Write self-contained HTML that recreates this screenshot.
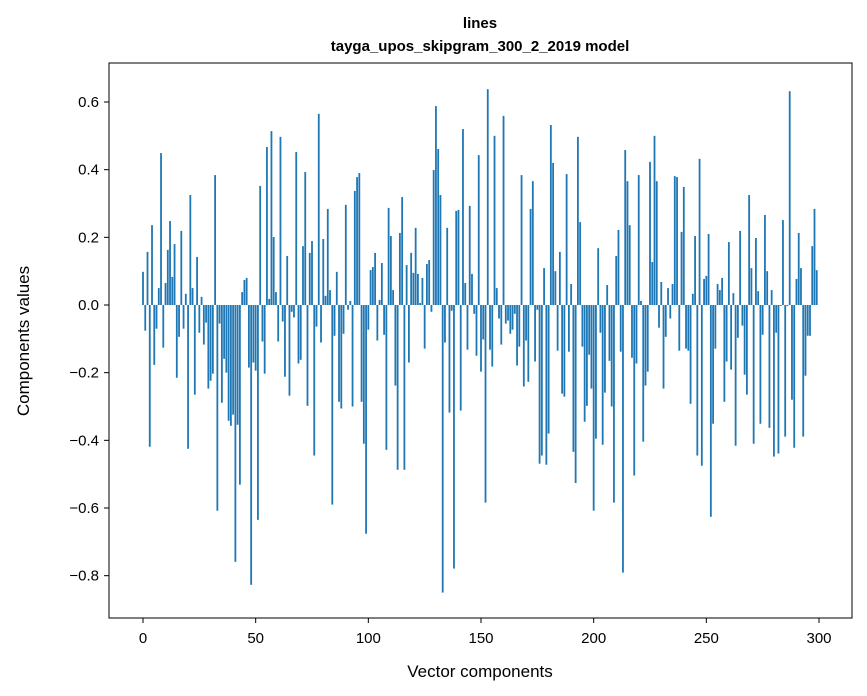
<!DOCTYPE html>
<html><head><meta charset="utf-8"><style>
body{margin:0;background:#fff;}
svg{display:block;font-family:"Liberation Sans","DejaVu Sans",sans-serif;}
</style></head><body>
<svg id="chart" width="867" height="696">
<text x="480" y="28" text-anchor="middle" font-size="15" font-weight="bold">lines</text>
<text x="480" y="51" text-anchor="middle" font-size="15" font-weight="bold">tayga_upos_skipgram_300_2_2019 model</text>
<g id="bars"></g>
<rect x="109" y="63" width="743" height="555" fill="none" stroke="#000" stroke-width="1"/>
<g id="xaxis"></g>
<g id="yaxis"></g>
<text x="480" y="677" text-anchor="middle" font-size="17">Vector components</text>
<text transform="translate(29,341) rotate(-90)" text-anchor="middle" font-size="17">Components values</text>
</svg>
<script>
const values = [
0.098,-0.076,0.157,-0.419,0.236,-0.177,-0.07,0.05,0.449,-0.126,
0.065,0.163,0.248,0.083,0.18,-0.215,-0.094,0.219,-0.07,0.033,
-0.425,0.325,0.05,-0.265,0.142,-0.082,0.024,-0.117,-0.052,-0.247,
-0.224,-0.203,0.384,-0.608,-0.055,-0.289,-0.159,-0.2,-0.342,-0.357,
-0.324,-0.759,-0.354,-0.531,0.038,0.074,0.08,-0.185,-0.827,-0.17,
-0.194,-0.635,0.352,-0.108,-0.203,0.467,0.018,0.514,0.201,0.038,
-0.108,0.497,-0.049,-0.212,0.145,-0.268,-0.02,-0.037,0.452,-0.173,
-0.162,0.174,0.393,-0.298,0.154,0.189,-0.445,-0.064,0.565,-0.111,
0.195,0.027,0.284,0.044,-0.59,-0.091,0.098,-0.286,-0.306,-0.085,
0.296,-0.014,0.012,-0.3,0.337,0.378,0.39,-0.286,-0.41,-0.676,
-0.073,0.103,0.112,0.154,-0.105,0.015,0.124,-0.088,-0.428,0.287,
0.204,0.044,-0.238,-0.487,0.213,0.319,-0.487,0.118,-0.17,0.154,
0.095,0.228,0.092,0.006,0.08,-0.129,0.121,0.133,-0.02,0.399,
0.588,0.461,0.325,-0.85,-0.111,0.228,-0.318,-0.017,-0.779,0.278,
0.281,-0.312,0.52,0.065,-0.132,0.293,0.092,-0.026,-0.15,0.443,
-0.197,-0.102,-0.584,0.638,-0.132,-0.182,0.5,0.05,-0.04,-0.117,
0.559,-0.055,-0.046,-0.085,-0.073,-0.026,-0.179,-0.123,0.384,-0.241,
-0.105,-0.227,0.284,0.366,-0.167,-0.014,-0.469,-0.445,0.109,-0.472,
-0.38,0.532,0.42,0.1,-0.135,0.157,-0.262,-0.271,0.387,-0.138,
0.062,-0.434,-0.526,0.497,0.245,-0.123,-0.345,-0.298,-0.147,-0.247,
-0.608,-0.395,0.168,-0.082,-0.413,-0.259,0.059,-0.165,-0.3,-0.584,
0.145,0.222,-0.138,-0.791,0.458,0.366,0.236,-0.156,-0.504,-0.173,
0.384,0.012,-0.404,-0.238,-0.197,0.423,0.127,0.5,0.366,-0.067,
0.068,-0.247,-0.094,0.05,-0.04,0.062,0.381,0.378,-0.135,0.216,
0.349,-0.129,-0.135,-0.292,0.033,0.204,-0.445,0.432,-0.475,0.077,
0.086,0.21,-0.626,-0.351,-0.129,0.062,0.044,0.08,-0.286,-0.167,
0.186,-0.191,0.035,-0.416,-0.097,0.219,-0.061,-0.206,-0.265,0.325,
0.109,-0.41,0.198,0.041,-0.351,-0.088,0.266,0.1,-0.363,0.044,
-0.448,-0.082,-0.439,-0.003,0.251,-0.389,-0.003,0.632,-0.28,-0.422,
0.077,0.213,0.109,-0.389,-0.209,-0.091,-0.091,0.174,0.284,0.103
];
const xTicks = [0,50,100,150,200,250,300];
const yTicks = [-0.8,-0.6,-0.4,-0.2,0.0,0.2,0.4,0.6];
const yTickLabels = ["\u22120.8","\u22120.6","\u22120.4","\u22120.2","0.0","0.2","0.4","0.6"];

const NS="http://www.w3.org/2000/svg";
const xs = v => 143 + v*(819-143)/300;
const ys = v => 305 - v*(305-102)/0.6;
const barW = 0.8*(819-143)/300;
const gb=document.getElementById('bars');
values.forEach((v,i)=>{
  const r=document.createElementNS(NS,'rect');
  
  
  const y0=ys(0), y1=ys(v);
  r.setAttribute('x',xs(i)-barW/2);
  r.setAttribute('y',Math.min(y0,y1));
  r.setAttribute('width',barW);
  r.setAttribute('height',Math.abs(y1-y0));
  r.setAttribute('fill','#1f77b4');
  gb.appendChild(r);
});
const gx=document.getElementById('xaxis');
xTicks.forEach(t=>{
  const l=document.createElementNS(NS,'line');
  
  
  l.setAttribute('x1',xs(t));l.setAttribute('x2',xs(t));
  l.setAttribute('y1',618);l.setAttribute('y2',623);
  l.setAttribute('stroke','#000');
  gx.appendChild(l);
  const tx=document.createElementNS(NS,'text');
  
  
  tx.setAttribute('x',xs(t));tx.setAttribute('y',643);
  tx.setAttribute('text-anchor','middle');tx.setAttribute('font-size','15');
  tx.textContent=String(t);
  gx.appendChild(tx);
});
const gy=document.getElementById('yaxis');
yTicks.forEach((t,k)=>{
  const l=document.createElementNS(NS,'line');
  
  
  l.setAttribute('x1',104);l.setAttribute('x2',109);
  l.setAttribute('y1',ys(t));l.setAttribute('y2',ys(t));
  l.setAttribute('stroke','#000');
  gy.appendChild(l);
  const tx=document.createElementNS(NS,'text');
  
  
  tx.setAttribute('x',99);tx.setAttribute('y',ys(t)+5);
  tx.setAttribute('text-anchor','end');tx.setAttribute('font-size','15');
  tx.textContent=yTickLabels[k];
  gy.appendChild(tx);
});
</script>
</body></html>
